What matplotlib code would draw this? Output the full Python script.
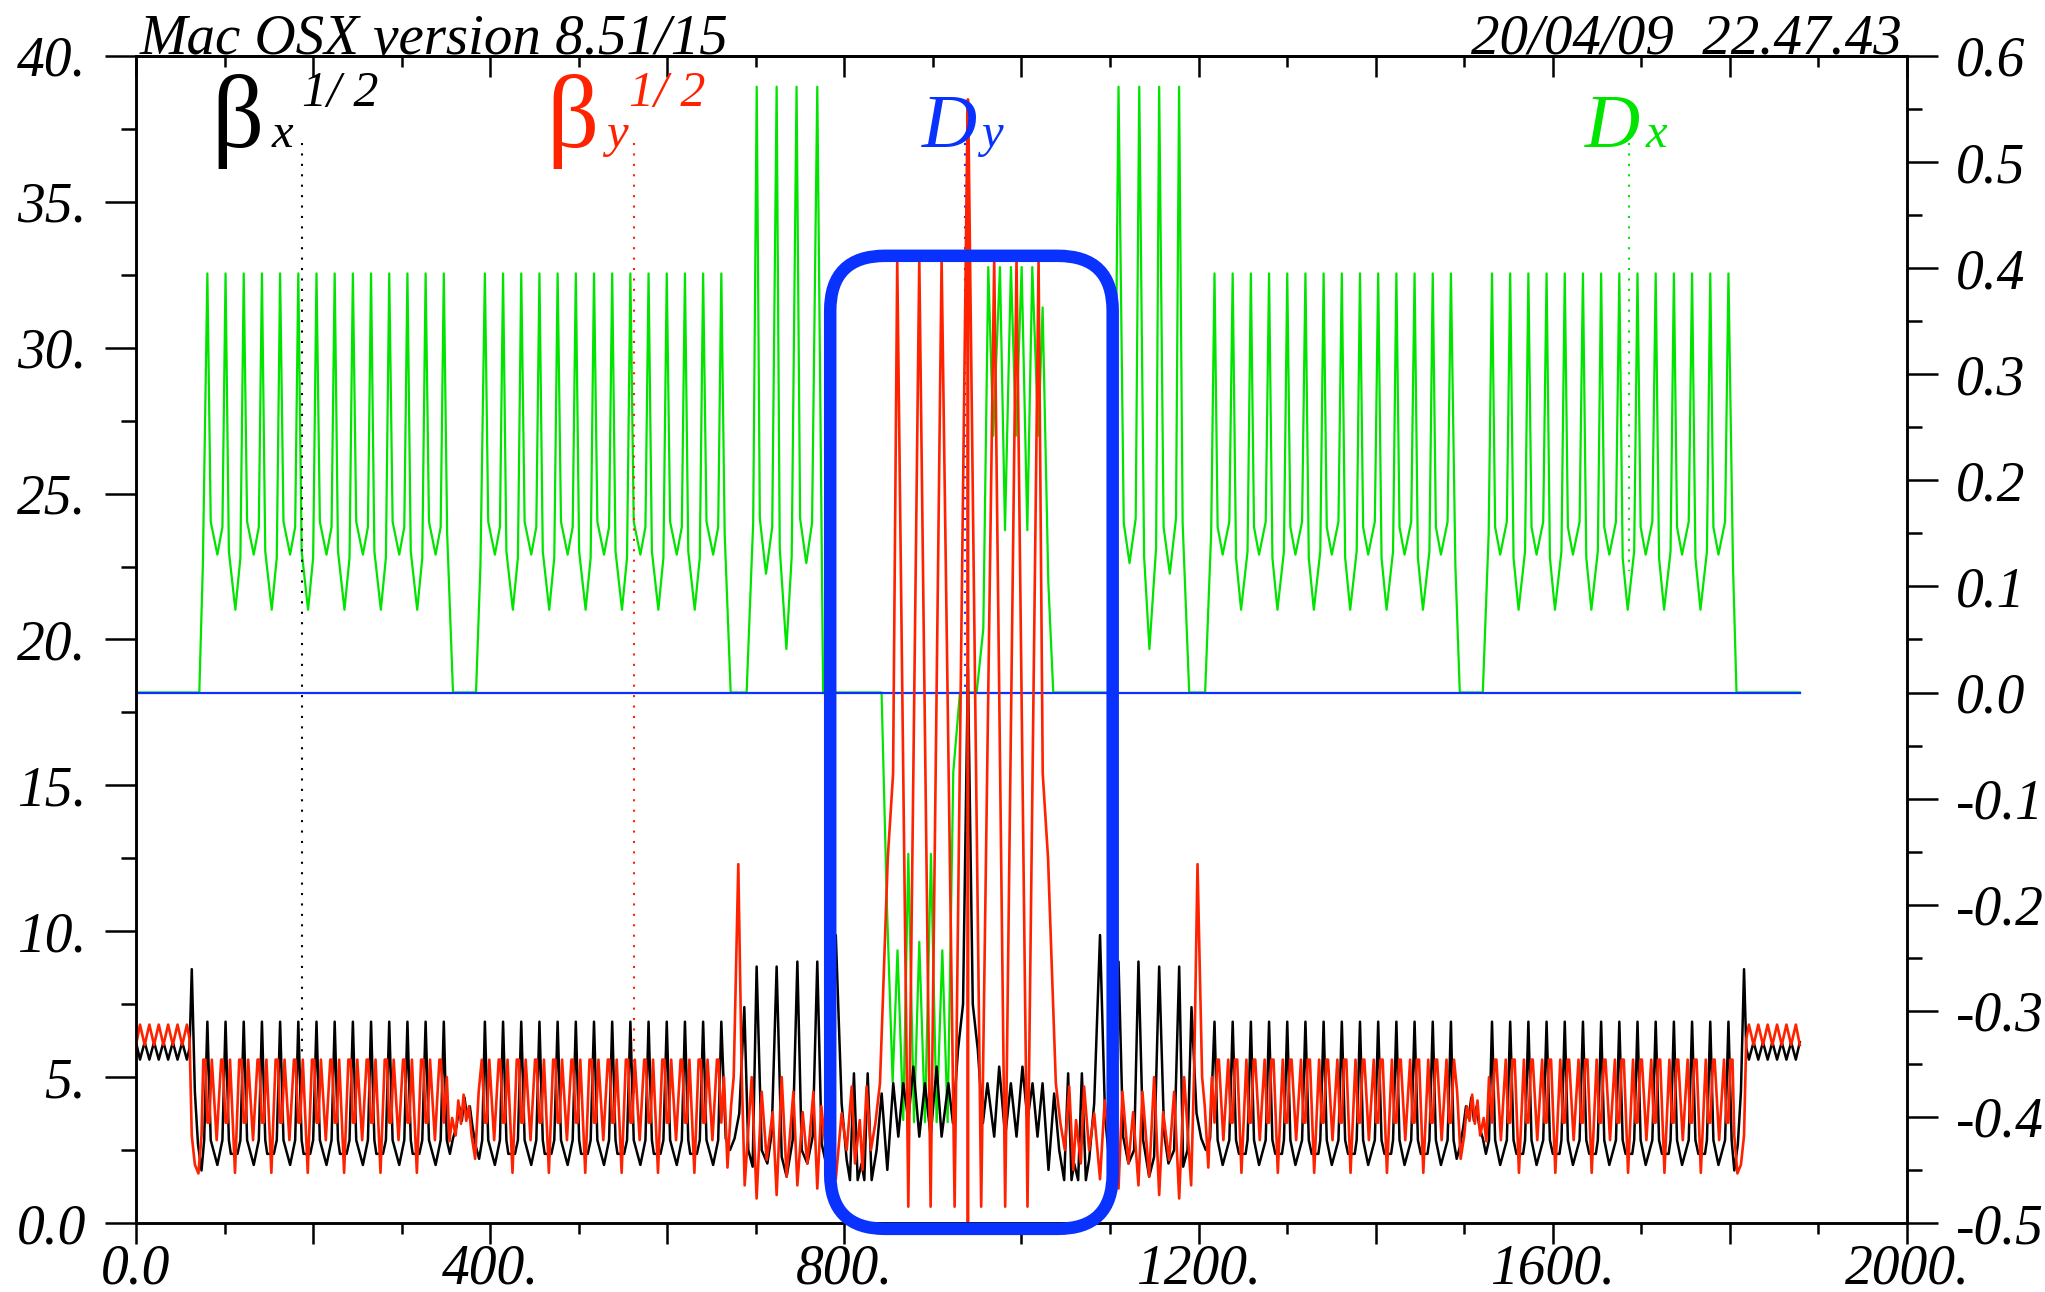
import matplotlib
matplotlib.use('Agg')
import matplotlib.pyplot as plt
from matplotlib.patches import FancyBboxPatch
from matplotlib.transforms import IdentityTransform
from matplotlib.ticker import FixedLocator, FuncFormatter, NullFormatter
import numpy as np

plt.rcParams['font.family'] = ['Liberation Serif', 'DejaVu Serif']
plt.rcParams['font.style'] = 'italic'

RED = '#ff2200'
GREEN = '#00e400'
BLUE = '#0a32ff'

# ---- lattice layout (m) ----
s_mid = 939.5            # ring is mirror symmetric about this point
s_end = 1879.0
cell_len = 41.08
arc_first_peak = [80.6, 394.0]
arc_cells = 7

# one arc cell, offsets (m) from a Dx maximum
dx_cell_off = [0, 3.8, 11.3, 17.0, 20.54, 24.3, 31.6, 37.3]
dx_cell = [0.395, 0.161, 0.130, 0.156, 0.395, 0.133, 0.078, 0.127]
bx_cell_off = [0, 3.8, 11.3, 17.0, 20.54, 24.3, 26.5, 34.0, 37.3]
bx_cell = [6.9, 2.84, 1.99, 2.84, 6.9, 2.84, 2.37, 2.37, 2.84]
by_cell_off = [0, 2.2, 5.0, 10.5, 15.6, 17.3, 20.54, 22.7, 25.6, 31.2, 36.0, 38.5]
by_cell = [3.44, 3.44, 5.6, 2.84, 5.6, 5.6, 3.44, 3.44, 5.6, 1.72, 5.6, 5.6]

# straight section at the start of the ring
st_s = [0, 4.5, 9.8, 15.1, 20.4, 25.7, 31.0, 36.3, 41.6, 46.9, 52.2, 57.5, 60.5, 63.0, 66.5, 70.0, 74.0, 77.0]
st_bx = [6.2, 5.6, 6.2, 5.6, 6.2, 5.6, 6.2, 5.6, 6.2, 5.6, 6.2, 5.6, 6.0, 8.7, 4.5, 2.7, 1.8, 2.84]
st_s_y = [0, 4.5, 9.8, 15.1, 20.4, 25.7, 31.0, 36.3, 41.6, 46.9, 52.2, 57.5, 60.5, 63.0, 66.5, 70.5, 74.0, 76.0, 78.4]
st_by = [6.1, 6.8, 6.1, 6.8, 6.1, 6.8, 6.1, 6.8, 6.1, 6.8, 6.1, 6.8, 6.3, 3.0, 2.0, 1.7, 3.0, 5.6, 5.6]

# short gap between the two arcs
gap_s = [351, 354.5, 358, 362, 365, 368, 371, 374, 377, 380, 384, 387.5, 391]
gap_bx = [2.84, 2.37, 2.9, 3.3, 4.0, 3.5, 4.3, 3.6, 4.0, 3.3, 2.6, 2.2, 2.84]
gap_s_y = [351, 354, 357, 361, 364, 367, 370, 373, 376, 379, 383, 387, 390.5]
gap_by = [5.0, 2.8, 3.6, 3.0, 4.2, 3.4, 4.4, 3.5, 4.0, 3.0, 2.2, 4.5, 5.6]

# dispersion suppressor + half insertion (left of s_mid)
ins_s = [666, 670.8, 676, 681.3, 687, 691.5, 696.4, 700.9, 706.6, 713, 717.9, 723.5, 729.2,
         734.8, 741.6, 746.9, 751.8, 758.2, 764.2, 769.4, 774.3, 779.5, 784.6, 790.3,
         796.9, 802.6, 806.3, 810.8, 815, 819.5, 822.5, 826.3, 830.8, 836.4, 842.1, 848.5,
         855.2, 860.9, 866.5, 872.2, 877.9, 884.6, 891, 897.4, 904.2, 909.8, 917.4, 922.6,
         928.3, 934, 939.5]
ins_bx = [2.9, 2.5, 2.9, 3.76, 7.4, 2.5, 1.93, 8.79, 2.5, 2.04, 3.07, 8.79, 2.27,
          1.59, 2.84, 8.96, 2.5, 2.04, 2.96, 8.96, 2.73, 2.0, 3.65, 9.87,
          4.1, 2.16, 1.47, 5.13, 1.47, 2.04, 1.47, 5.13, 1.47, 2.5, 4.44, 1.82,
          4.79, 2.96, 4.79, 3.53, 5.36, 2.96, 4.79, 2.96, 5.36, 2.96, 4.79, 3.42,
          5.93, 7.5, 19.0]
ins_s_y = [664, 668, 672, 675, 680.2, 684, 687.4, 691, 695.3, 700.9, 706.6, 712.3, 719,
           723.5, 729.2, 734.8, 742.4, 746.9, 752.9, 758.2, 765, 769.4, 774, 779, 785,
           790.3, 796.9, 802.6, 808.3, 812, 817.4, 820.5, 825.1, 830, 835, 840.2, 849,
           855, 859.7, 872.2, 884.6, 897.4, 909.8, 924.5, 939.2, 939.5]
ins_by = [5.0, 1.9, 4.0, 5.0, 12.3, 5.2, 1.29, 3.0, 5.0, 0.84, 4.5, 2.16, 3.8,
          0.96, 5.0, 1.59, 4.5, 1.29, 3.8, 2.04, 4.5, 1.18, 4.0, 2.5, 4.2,
          1.5, 3.76, 2.5, 4.68, 2.04, 3.53, 1.82, 4.68, 2.5, 3.42, 4.79, 12.5,
          15.4, 33.0, 0.56, 33.0, 0.56, 33.0, 0.56, 38.5, 0.0]

# Dx pieces outside the arcs (left half)
dx_start_s = [0, 71.5, 75.5]
dx_start = [0, 0, 0.12]
dx_gap_s = [351.4, 358, 384, 389]
dx_gap = [0.15, 0, 0, 0.12]
dx_ds_s = [664.8, 671.6, 689.6, 697, 701, 704.5, 711.5, 718.5, 723.5, 727, 734.5, 740.5,
           746, 750, 757, 763.5, 769.4, 776]
dx_ds = [0.15, 0, 0, 0.16, 0.571, 0.164, 0.112, 0.156, 0.571, 0.136, 0.041, 0.128,
         0.571, 0.164, 0.122, 0.16, 0.571, 0]
# Dx through the insertion (not symmetric)
dx_ir_s = [842, 848, 854.5, 860, 866.5, 872.2, 878.6, 884.6, 891, 897.8, 904.2, 910.6,
           916.6, 923, 930.5, 949.4, 956.9, 962.5, 968.1, 975.7, 981.4, 988.1, 993.8,
           1000.2, 1006.6, 1012.2, 1019, 1023.9, 1030.3, 1035.9]
dx_ir = [0, -0.2, -0.367, -0.243, -0.403, -0.152, -0.405, -0.235, -0.405, -0.152, -0.405,
         -0.243, -0.405, -0.075, 0, 0, 0.06, 0.401, 0.242, 0.401, 0.153, 0.401, 0.242,
         0.401, 0.153, 0.401, 0.242, 0.363, 0.104, 0]

# annotations
box_s = [784.0, 1103.0]
box_v = [-0.2, 33.15]
label_s = {'bx': 187, 'by': 562, 'dy': 936.4, 'dx': 1686}


def tile(first, off, val):
    s, v = [], []
    for k in range(arc_cells):
        for o, y in zip(off, val):
            if k * cell_len + o <= (arc_cells - 0.5) * cell_len + 0.01:
                s.append(first + k * cell_len + o)
                v.append(y)
    return s, v


def join(parts):
    return (np.concatenate([np.asarray(p[0], float) for p in parts]),
            np.concatenate([np.asarray(p[1], float) for p in parts]))


def mirror(s, v):
    s2 = 2 * s_mid - s[::-1]
    v2 = v[::-1]
    return np.concatenate([s, s2[1:]]), np.concatenate([v, v2[1:]])


a1 = arc_first_peak[0]
a2 = arc_first_peak[1]
bx_s, bx = mirror(*join([(st_s, st_bx), tile(a1, bx_cell_off, bx_cell), (gap_s, gap_bx),
                         tile(a2, bx_cell_off, bx_cell), (ins_s, ins_bx)]))
by_s, by = mirror(*join([(st_s_y, st_by), tile(a1, by_cell_off, by_cell), (gap_s_y, gap_by),
                         tile(a2, by_cell_off, by_cell), (ins_s_y, ins_by)]))
dxl_s, dxl = join([(dx_start_s, dx_start), tile(a1, dx_cell_off, dx_cell), (dx_gap_s, dx_gap),
                   tile(a2, dx_cell_off, dx_cell), (dx_ds_s, dx_ds)])
dx_s = np.concatenate([dxl_s, dx_ir_s, 2 * s_mid - dxl_s[::-1]])
dx = np.concatenate([dxl, dx_ir, dxl[::-1]])

# ---- figure ----
fig = plt.figure(figsize=(20.45, 12.92), dpi=100)
ax = fig.add_axes([0.0665, 0.0534, 0.866, 0.9033])
ax2 = ax.twinx()
ax.set_zorder(2)
ax2.set_zorder(1)
ax.patch.set_visible(False)

ax2.plot(dx_s, dx, color=GREEN, lw=1.6)
ax2.plot([0, s_end], [0, 0], color=BLUE, lw=1.6)
ax.plot(bx_s, bx, color='black', lw=1.8)
ax.plot(by_s, by, color=RED, lw=1.9)

ax.set_xlim(0, 2000)
ax.set_ylim(0, 40)
ax2.set_ylim(-0.5, 0.6)

for sp in list(ax.spines.values()) + list(ax2.spines.values()):
    sp.set_linewidth(1.8)

xmaj = np.arange(0, 2001, 200)
xmin = np.arange(100, 2000, 200)
ax.xaxis.set_major_locator(FixedLocator(xmaj))
ax.xaxis.set_minor_locator(FixedLocator(xmin))
ax.xaxis.set_major_formatter(FuncFormatter(
    lambda v, p: ('0.0' if v == 0 else '%d.' % v) if int(v) % 400 == 0 else ''))
ax.tick_params(axis='x', which='major', direction='out', length=15, width=1.8,
               labelsize=40, pad=0)
ax.tick_params(axis='x', which='minor', direction='out', length=8, width=1.8)

top = ax.secondary_xaxis('top')
top.xaxis.set_major_locator(FixedLocator(xmaj))
top.xaxis.set_minor_locator(FixedLocator(xmin))
top.xaxis.set_major_formatter(NullFormatter())
top.tick_params(axis='x', which='major', direction='in', length=15, width=1.8)
top.tick_params(axis='x', which='minor', direction='in', length=8, width=1.8)
top.spines['top'].set_linewidth(1.8)

ax.yaxis.set_major_locator(FixedLocator(np.arange(0, 41, 5)))
ax.yaxis.set_minor_locator(FixedLocator(np.arange(2.5, 40, 5)))
ax.yaxis.set_major_formatter(FuncFormatter(lambda v, p: '0.0' if v == 0 else '%d.' % v))
ax.tick_params(axis='y', which='major', direction='out', length=22, width=1.8,
               labelsize=40, pad=14)
ax.tick_params(axis='y', which='minor', direction='out', length=11, width=1.8)

ax2.yaxis.set_major_locator(FixedLocator(np.round(np.arange(-0.5, 0.61, 0.1), 2)))
ax2.yaxis.set_minor_locator(FixedLocator(np.round(np.arange(-0.45, 0.6, 0.1), 3)))
ax2.yaxis.set_major_formatter(FuncFormatter(lambda v, p: '%.1f' % (0.0 if abs(v) < 1e-9 else v)))
ax2.tick_params(axis='y', which='major', direction='out', length=22, width=1.8,
                labelsize=40, pad=13)
ax2.tick_params(axis='y', which='minor', direction='out', length=11, width=1.8)

# header texts
ax.text(0.002, 1.002, 'Mac OSX version 8.51/15', transform=ax.transAxes,
        ha='left', va='baseline', fontsize=41)
ax.text(0.997, 1.002, '20/04/09  22.47.43', transform=ax.transAxes,
        ha='right', va='baseline', fontsize=41)

# curve labels with dotted pointers
base = 36.87
ax.text(85, base, '\u03b2', fontsize=74, fontstyle='normal', color='black')
ax.text(152.8, base, 'x', fontsize=35, color='black')
ax.text(188, 38.3, '1/ 2', fontsize=36, color='black')
ax.plot([label_s['bx']] * 2, [37.0, 5.8], color='black', lw=1.5, ls=(0, (1, 4)))

ax.text(463, base, '\u03b2', fontsize=74, fontstyle='normal', color=RED)
ax.text(531, base, 'y', fontsize=35, color=RED)
ax.text(557, 38.3, '1/ 2', fontsize=36, color=RED)
ax.plot([label_s['by']] * 2, [37.0, 4.4], color=RED, lw=1.5, ls=(0, (1, 4)))

ax.text(887.8, base, 'D', fontsize=55, color=BLUE)
ax.text(954, base, 'y', fontsize=35, color=BLUE)
ax2.plot([label_s['dy']] * 2, [0.5175, 0.0], color=BLUE, lw=1.5, ls=(0, (1, 4)))

ax.text(1636, base, 'D', fontsize=55, color=GREEN)
ax.text(1705.3, base, 'x', fontsize=35, color=GREEN)
ax2.plot([label_s['dx']] * 2, [0.5175, 0.115], color=GREEN, lw=1.5, ls=(0, (1, 4)))

# highlighted insertion region
(x0, y0) = ax.transData.transform((box_s[0], box_v[0]))
(x1, y1) = ax.transData.transform((box_s[1], box_v[1]))
box = FancyBboxPatch((x0, y0), x1 - x0, y1 - y0, boxstyle='round,pad=0,rounding_size=55',
                     transform=IdentityTransform(), fill=False, lw=9, ec=BLUE,
                     clip_on=False, zorder=10)
fig.add_artist(box)

fig.savefig('out.png', dpi=100)
